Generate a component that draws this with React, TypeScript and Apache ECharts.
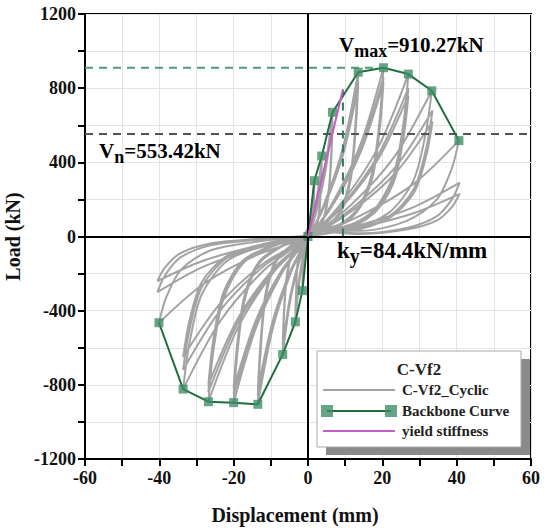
import React, { useEffect, useRef } from 'react';
import * as echarts from 'echarts';

const FONT = '"Liberation Serif", "Times New Roman", serif';

// Backbone (skeleton) curve: [displacement mm, load kN]
const backbone: number[][] = [
  [-40.1, -465], [-33.6, -823], [-26.8, -891], [-20.0, -896], [-13.5, -905],
  [-6.8, -636], [-3.4, -460], [-1.5, -292], [0, 0], [1.7, 301], [3.7, 434],
  [6.6, 670], [13.5, 886], [20.3, 910.27], [27.0, 876], [33.3, 786], [40.6, 517],
];

// Yield stiffness line (ky = 84.4 kN/mm) and reference lines
const yieldLine: number[][] = [[0, 0], [9.4, 793]];
const yieldDispLine: number[][] = [[9.4, 0], [9.4, 793]];
const vmaxLine: number[][] = [[-60, 910.27], [20.3, 910.27]];
const vnLine: number[][] = [[-60, 553.42], [60, 553.42]];

// Cyclic hysteresis loops, one array per cycle
const cyclicLoops: number[][][] = [
  [[0, 0], [0.6, 18], [1.1, 48], [1.45, 114], [1.6, 211], [1.7, 301], [1.19, 166], [0.6, 66], [0.08, 9],
    [-0.53, -18], [-0.98, -47], [-1.28, -111], [-1.43, -204], [-1.5, -292], [-1.05, -161], [-0.53, -64], [-0.08, -9]],
  [[0.6, 16], [1.1, 43], [1.45, 103], [1.6, 189], [1.7, 270], [1.19, 149], [0.6, 59], [0.08, 8],
    [-0.53, -16], [-0.98, -42], [-1.28, -99], [-1.43, -182], [-1.5, -260], [-1.05, -143], [-0.53, -57], [-0.08, -8]],
  [[0.3, 20], [1.3, 26], [2.4, 69], [3.15, 165], [3.5, 304], [3.7, 434], [2.6, 239], [1.3, 95], [0.2, 13],
    [-1.2, -28], [-2.2, -74], [-2.9, -175], [-3.2, -322], [-3.4, -460], [-2.4, -253], [-1.2, -101], [-0.2, -14]],
  [[0.3, 20], [1.3, 24], [2.4, 64], [3.15, 152], [3.5, 280], [3.7, 400], [2.6, 220], [1.3, 88], [0.2, 12],
    [-1.2, -25], [-2.2, -67], [-2.9, -160], [-3.2, -294], [-3.4, -420], [-2.4, -231], [-1.2, -92], [-0.2, -13]],
  [[0.3, 30], [2.3, 40], [4.3, 107], [5.6, 255], [6.3, 469], [6.6, 670], [4.6, 369], [2.3, 147], [0.3, 20],
    [-2.4, -38], [-4.4, -102], [-5.8, -242], [-6.5, -445], [-6.8, -636], [-4.8, -350], [-2.4, -140], [-0.3, -19]],
  [[0.3, 30], [2.3, 37], [4.3, 99], [5.6, 236], [6.3, 434], [6.6, 620], [4.6, 341], [2.3, 136], [0.3, 19],
    [-2.4, -35], [-4.4, -94], [-5.8, -224], [-6.5, -413], [-6.8, -590], [-4.8, -325], [-2.4, -130], [-0.3, -18]],
  [[0.3, 40], [4.7, 53], [8.8, 142], [11.5, 337], [12.8, 620], [13.5, 886], [9.5, 487], [4.7, 195], [0.7, 27],
    [-4.7, -54], [-8.8, -145], [-11.5, -344], [-12.8, -634], [-13.5, -905], [-9.5, -498], [-4.7, -199], [-0.7, -27]],
  [[0.3, 40], [4.7, 50], [8.8, 134], [11.5, 319], [12.8, 588], [13.5, 840], [9.5, 462], [4.7, 185], [0.7, 25],
    [-4.7, -52], [-8.8, -138], [-11.5, -327], [-12.8, -602], [-13.5, -860], [-9.5, -473], [-4.7, -189], [-0.7, -26]],
  [[0.3, 40], [4.7, 49], [8.8, 130], [11.5, 308], [12.8, 567], [13.5, 810], [9.5, 446], [4.7, 178], [0.7, 24],
    [-4.7, -50], [-8.8, -133], [-11.5, -315], [-12.8, -581], [-13.5, -830], [-9.5, -457], [-4.7, -183], [-0.7, -25]],
  [[0.3, 45], [7.1, 55], [13.2, 146], [17.3, 346], [19.3, 637], [20.3, 910], [14.2, 501], [7.1, 200], [1.0, 27],
    [-7.0, -54], [-13.0, -143], [-17.0, -340], [-19.0, -627], [-20.0, -896], [-14.0, -493], [-7.0, -197], [-1.0, -27]],
  [[0.3, 45], [7.1, 52], [13.2, 138], [17.3, 327], [19.3, 602], [20.3, 860], [14.2, 473], [7.1, 189], [1.0, 26],
    [-7.0, -51], [-13.0, -136], [-17.0, -323], [-19.0, -595], [-20.0, -850], [-14.0, -468], [-7.0, -187], [-1.0, -26]],
  [[0.3, 45], [7.1, 50], [13.2, 133], [17.3, 315], [19.3, 581], [20.3, 830], [14.2, 457], [7.1, 183], [1.0, 25],
    [-7.0, -49], [-13.0, -131], [-17.0, -312], [-19.0, -574], [-20.0, -820], [-14.0, -451], [-7.0, -180], [-1.0, -25]],
  [[0.3, 45], [9.5, 53], [17.6, 140], [23.0, 333], [25.7, 613], [27.0, 876], [18.9, 482], [9.5, 193], [1.4, 26],
    [-9.4, -53], [-17.4, -143], [-22.8, -339], [-25.5, -624], [-26.8, -891], [-18.8, -490], [-9.4, -196], [-1.3, -27]],
  [[0.3, 45], [9.5, 48], [17.6, 128], [23.0, 304], [25.7, 560], [27.0, 800], [18.9, 440], [9.5, 176], [1.4, 24],
    [-9.4, -50], [-17.4, -134], [-22.8, -319], [-25.5, -588], [-26.8, -840], [-18.8, -462], [-9.4, -185], [-1.3, -25]],
  [[0.3, 45], [9.5, 46], [17.6, 122], [23.0, 289], [25.7, 532], [27.0, 760], [18.9, 418], [9.5, 167], [1.4, 23],
    [-9.4, -48], [-17.4, -128], [-22.8, -304], [-25.5, -560], [-26.8, -800], [-18.8, -440], [-9.4, -176], [-1.3, -24]],
  [[0.3, 45], [11.7, 47], [21.6, 126], [28.3, 299], [31.6, 550], [33.3, 786], [23.3, 432], [11.7, 173], [1.7, 24],
    [-11.8, -49], [-21.8, -132], [-28.6, -313], [-31.9, -576], [-33.6, -823], [-23.5, -453], [-11.8, -181], [-1.7, -25]],
  [[0.3, 45], [11.7, 41], [21.8, 109], [28.5, 258], [31.8, 476], [33.5, 680], [23.5, 374], [11.7, 150], [1.7, 20],
    [-11.8, -43], [-21.8, -115], [-28.6, -274], [-31.9, -504], [-33.6, -720], [-23.5, -396], [-11.8, -158], [-1.7, -22]],
  [[0.3, 45], [11.7, 37], [21.8, 99], [28.5, 236], [31.8, 434], [33.5, 620], [23.5, 341], [11.7, 136], [1.7, 19],
    [-11.8, -39], [-21.8, -104], [-28.6, -247], [-31.9, -455], [-33.6, -650], [-23.5, -358], [-11.8, -143], [-1.7, -20]],
  [[0.3, 40], [14.2, 31], [26.4, 83], [34.5, 196], [38.6, 362], [40.6, 517], [28.4, 284], [14.2, 114], [2.0, 16],
    [-14.0, -28], [-26.1, -74], [-34.1, -177], [-38.1, -326], [-40.1, -465], [-28.1, -256], [-14.0, -102], [-2.0, -14]],
  [[0.3, 35], [14.3, 17], [26.5, 46], [34.7, 110], [38.8, 203], [40.8, 290], [28.6, 160], [14.3, 64], [2.0, 9],
    [-14.2, -18], [-26.3, -48], [-34.4, -114], [-38.5, -210], [-40.5, -300], [-28.4, -165], [-14.2, -66], [-2.0, -9]],
  [[0.3, 30], [14.3, 14], [26.5, 37], [34.7, 87], [38.8, 161], [40.8, 230], [28.6, 127], [14.3, 51], [2.0, 7],
    [-14.2, -14], [-26.3, -38], [-34.4, -91], [-38.5, -168], [-40.5, -240], [-28.4, -132], [-14.2, -53], [-2.0, -7]],
];

const GRAY = '#a3a3a3';
const GREEN_LINE = '#1f6e3e';
const GREEN_MARK = 'rgba(62,140,100,0.78)';
const GREEN_DASH = '#4f9c7c';
const PINK = '#c45ec4';

export default function App() {
  const ref = useRef<HTMLDivElement>(null);

  useEffect(() => {
    const chart = echarts.init(ref.current as HTMLDivElement, null, { renderer: 'svg' });
    const cyclicPath: number[][] = [];
    cyclicLoops.forEach((loop) => loop.forEach((p) => cyclicPath.push(p)));

    const axisFont = { fontFamily: FONT, fontWeight: 'bold' as const, fontSize: 18, color: '#111' };
    const nameFont = { fontFamily: FONT, fontWeight: 'bold' as const, fontSize: 20, color: '#111' };
    const tickStyle = { color: '#000', width: 2 };
    const gridLine = { show: true, lineStyle: { color: '#e4e4e4', width: 1 } };

    const mainRich = (size: number) => ({
      m: { fontFamily: FONT, fontWeight: 'bold', fontSize: size, color: '#111', verticalAlign: 'bottom', padding: [0, 0, 4, 0] },
      s: { fontFamily: FONT, fontWeight: 'bold', fontSize: size - 3, color: '#111', verticalAlign: 'bottom' },
    });

    const legendText = (x: number, y: number, text: string) => ({
      type: 'text', x, y, z: 102,
      style: { text, fontFamily: FONT, fontWeight: 'bold', fontSize: 15, fill: '#222', align: 'left', verticalAlign: 'middle' },
    });

    chart.setOption({
      animation: false,
      backgroundColor: '#ffffff',
      grid: {
        left: 85, right: 18, top: 14, bottom: 71, containLabel: false, outerBoundsMode: 'none',
        show: true, borderColor: '#000', borderWidth: 2,
      },
      xAxis: {
        type: 'value', min: -60, max: 60, interval: 20,
        name: 'Displacement (mm)', nameLocation: 'middle', nameGap: 46,
        nameTextStyle: { ...nameFont, padding: [0, 26, 0, 0] },
        axisLine: { show: true, onZero: false, lineStyle: tickStyle },
        axisTick: { show: true, inside: false, length: 7, lineStyle: tickStyle },
        minorTick: { show: true, splitNumber: 2, length: 7, lineStyle: tickStyle },
        axisLabel: { ...axisFont, margin: 10, formatter: (v: number) => String(v) },
        splitLine: gridLine,
        minorSplitLine: gridLine,
      },
      yAxis: {
        type: 'value', min: -1200, max: 1200, interval: 400,
        name: 'Load (kN)', nameLocation: 'middle', nameGap: 54, nameTextStyle: nameFont,
        axisLine: { show: true, onZero: false, lineStyle: tickStyle },
        axisTick: { show: true, inside: false, length: 7, lineStyle: tickStyle },
        minorTick: { show: true, splitNumber: 2, length: 7, lineStyle: tickStyle },
        axisLabel: { ...axisFont, margin: 9, formatter: (v: number) => String(v) },
        splitLine: gridLine,
        minorSplitLine: gridLine,
      },
      series: [
        {
          name: 'C-Vf2_Cyclic', type: 'line', data: cyclicPath, smooth: 0.3, showSymbol: false,
          lineStyle: { color: GRAY, width: 2 }, silent: true, z: 2,
          markLine: {
            silent: true, symbol: 'none', label: { show: false },
            lineStyle: { color: '#000', width: 2, type: 'solid' },
            data: [{ xAxis: 0 }, { yAxis: 0 }],
          },
        },
        {
          name: 'Vn', type: 'line', data: vnLine, showSymbol: false, silent: true, z: 3,
          lineStyle: { color: '#555', width: 2, type: [8, 6] },
        },
        {
          name: 'Vmax', type: 'line', data: vmaxLine, showSymbol: false, silent: true, z: 3,
          lineStyle: { color: GREEN_DASH, width: 2, type: [8, 6] },
        },
        {
          name: 'Dy', type: 'line', data: yieldDispLine, showSymbol: false, silent: true, z: 3,
          lineStyle: { color: '#2f7d57', width: 2, type: [8, 6] },
        },
        {
          name: 'Backbone Curve', type: 'line', data: backbone, symbol: 'rect', symbolSize: 9, z: 4,
          lineStyle: { color: GREEN_LINE, width: 2 }, itemStyle: { color: GREEN_MARK },
        },
        {
          name: 'yield stiffness', type: 'line', data: yieldLine, showSymbol: false, z: 5,
          lineStyle: { color: PINK, width: 2 },
        },
      ],
      graphic: [
        { type: 'text', x: 339, y: 47, z: 50, style: { text: '{m|V}{s|max}{m|=910.27kN}', rich: mainRich(21), verticalAlign: 'middle', align: 'left' } },
        { type: 'text', x: 99, y: 153, z: 50, style: { text: '{m|V}{s|n}{m|=553.42kN}', rich: mainRich(21), verticalAlign: 'middle', align: 'left' } },
        { type: 'text', x: 337, y: 252, z: 50, style: { text: '{m|k}{s|y}{m|=84.4kN/mm}', rich: mainRich(23), verticalAlign: 'middle', align: 'left' } },
        { type: 'rect', z: 100, shape: { x: 326, y: 359, width: 204, height: 96 }, style: { fill: '#8a8a8a' } },
        { type: 'rect', z: 101, shape: { x: 317, y: 351, width: 204, height: 96 }, style: { fill: '#fff', stroke: '#aaa', lineWidth: 1 } },
        { type: 'text', x: 419, y: 369, z: 102, style: { text: 'C-Vf2', fontFamily: FONT, fontWeight: 'bold', fontSize: 17, fill: '#222', align: 'center', verticalAlign: 'middle' } },
        { type: 'line', z: 102, shape: { x1: 323, y1: 390, x2: 395, y2: 390 }, style: { stroke: GRAY, lineWidth: 2 } },
        legendText(402, 390, 'C-Vf2_Cyclic'),
        { type: 'line', z: 102, shape: { x1: 327, y1: 411, x2: 391, y2: 411 }, style: { stroke: GREEN_LINE, lineWidth: 2 } },
        { type: 'rect', z: 103, shape: { x: 321, y: 405, width: 12, height: 12 }, style: { fill: GREEN_MARK } },
        { type: 'rect', z: 103, shape: { x: 385, y: 405, width: 12, height: 12 }, style: { fill: GREEN_MARK } },
        legendText(402, 411, 'Backbone Curve'),
        { type: 'line', z: 102, shape: { x1: 323, y1: 431, x2: 395, y2: 431 }, style: { stroke: PINK, lineWidth: 2 } },
        legendText(402, 431, 'yield stiffness'),
      ],
    });

    return () => chart.dispose();
  }, []);

  return <div ref={ref} style={{ position: 'fixed', left: 0, top: 0, width: 549, height: 530 }} />;
}
